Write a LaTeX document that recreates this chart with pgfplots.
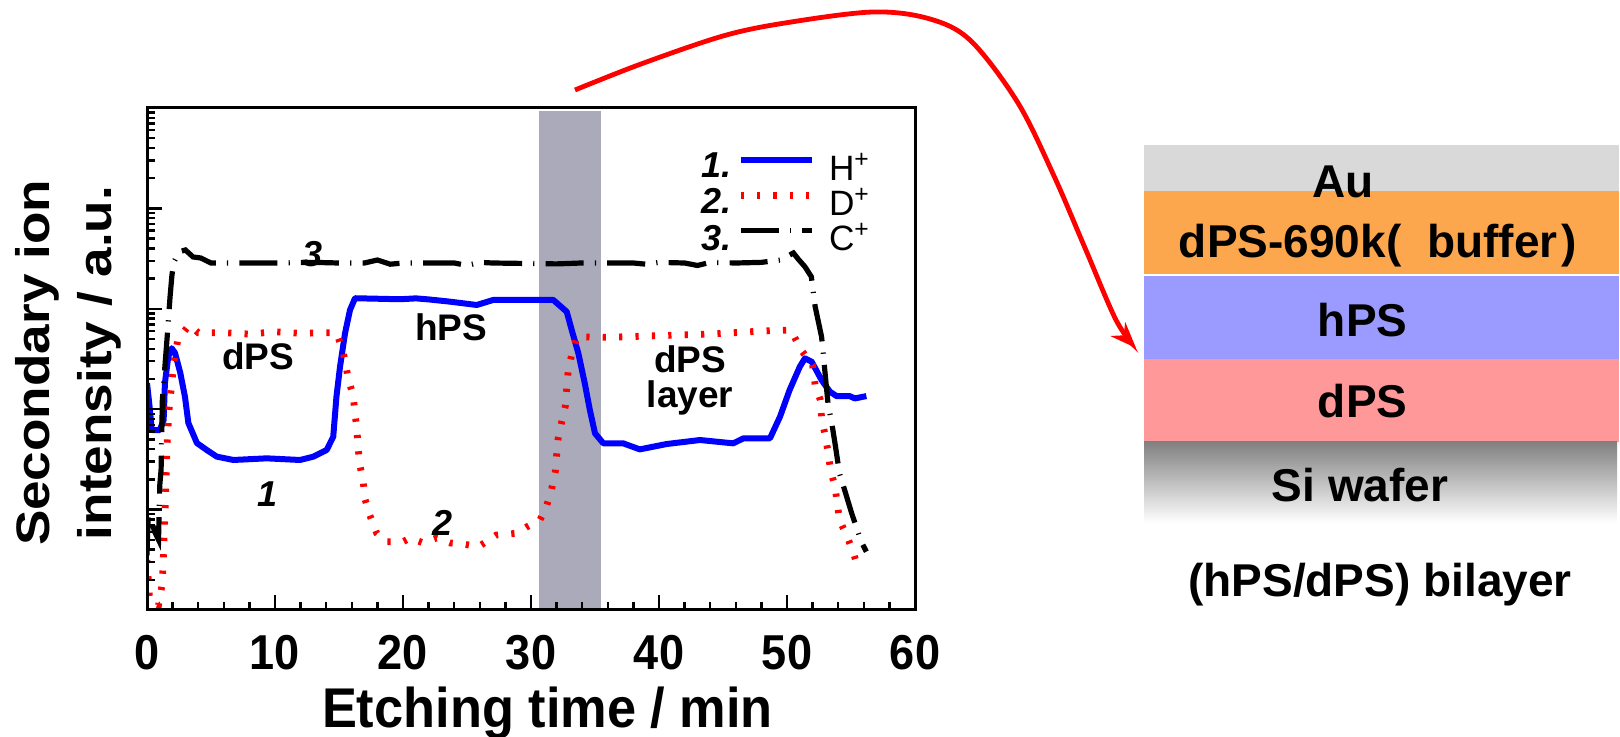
\documentclass[border=0pt]{standalone}
\usepackage{fontspec}
\setmainfont{Liberation Sans}
\newfontfamily\tickfont[FakeStretch=0.92]{Liberation Sans}
\newfontfamily\xlabfont[FakeStretch=0.935]{Liberation Sans}
\newfontfamily\ylabfont[FakeStretch=1.13]{Liberation Sans}
\usepackage{pgfplots}
\pgfplotsset{compat=1.18}
\usetikzlibrary{arrows.meta}

\definecolor{bandgray}{RGB}{170,170,186}
\definecolor{hblue}{RGB}{0,0,255}
\definecolor{dred}{RGB}{255,0,0}
\definecolor{augray}{RGB}{217,217,217}
\definecolor{bufferorange}{RGB}{252,166,78}
\definecolor{hpsblue}{RGB}{155,155,255}
\definecolor{dpspink}{RGB}{255,153,153}
\definecolor{sigray}{RGB}{128,128,128}

\begin{document}
\begin{tikzpicture}
\useasboundingbox (0,0) rectangle (810pt,368.5pt);
\begin{axis}[
  at={(73.5pt,63.5pt)}, anchor=south west,
  scale only axis, width=384pt, height=251pt,
  xmin=0, xmax=60, ymode=log, ymin=1, ymax=1e5,
  xtick={0,10,...,60}, minor x tick num=4,
  yticklabels={},
  xtick pos=left, ytick pos=left,
  tick align=inside,
  major tick length=7.5pt, minor tick length=4pt,
  every tick/.style={black, line width=1.2pt},
  axis line style={line width=1.5pt},
  axis on top,
  /pgf/number format/assume math mode=true,
  xticklabel style={font=\tickfont\bfseries\fontsize{24.5}{24.5}\selectfont, inner sep=0pt, yshift=-12.5pt},
  xlabel={Etching time / min},
  xlabel style={at={(axis description cs:0.5215,-0.234)}, anchor=base, inner sep=0pt,
    font=\xlabfont\bfseries\fontsize{28}{28}\selectfont},
  ylabel={Secondary ion\\intensity / a.u.},
  ylabel style={at={(axis description cs:-0.172,0.492)}, anchor=north, align=center, inner sep=0pt,
    font=\ylabfont\bfseries\fontsize{23.5}{31}\selectfont},
  legend cell align=left,
  legend image code/.code={%
    \path[draw=none, fill=none] (0pt,-7pt) (35.5pt,7pt);
    \draw[#1] (0pt,5pt) -- (35.5pt,5pt);},
  legend style={at={(0.768,0.9084)}, anchor=north west, draw=none, fill=none,
    inner sep=0pt, row sep=1.5pt, column sep=7pt,
    font=\fontsize{17.6}{17.6}\selectfont,
    nodes={inner sep=0pt, text height=13pt, text depth=3pt}},
]
% sputtered interface band
\addplot[fill=bandgray, draw=none, forget plot] coordinates {(30.6,1) (30.6,9.4e4) (35.5,9.4e4) (35.5,1)} -- cycle;

% 1. H+
\addplot[hblue, line width=3pt, line join=round] coordinates {
(0,182)(0.23,98)(0.37,62)(1.0,62)(1.3,78)(1.4,182)(1.66,333)(1.93,405)(2.19,363)(2.6,230)
(2.97,132)(3.23,73)(3.9,46)(4.66,39.3)(5.45,33.7)(6.75,31.2)(9.35,32.4)(11.95,31.2)(13.0,33.7)
(14.04,39.3)(14.55,53.2)(14.8,133)(15.08,265)(15.47,570)(15.86,973)(16.25,1274)(19.77,1245)
(21,1270)(22,1240)(23.67,1178)(25.76,1091)(27.05,1225)(31.74,1225)(32.79,935)(33.18,615)
(33.7,360)(34.2,181)(34.6,98)(35.0,57.5)(35.65,45.7)(37.2,45.7)(38.5,39.8)(40.6,45)(43.2,49.3)
(45.8,45.7)(46.6,51.3)(48.67,51.3)(49.45,84)(50.2,155)(51.0,265)(51.4,321)(51.93,297)(52.7,195)
(53.36,149)(53.88,135)(54.9,135)(55.3,128)(56.2,135)
};
\addlegendentry{H\textsuperscript{+}}

% 2. D+
\addplot[dred, line width=3.4pt, dash pattern=on 1.6pt off 6.6pt] coordinates {
(0,3.15)(0.2,1.26)(0.9,1.12)(1.2,1.86)(1.3,3.96)(1.4,8.84)(1.55,39.3)(1.7,91.8)(1.9,166)(2.1,295)
(2.4,489)(2.8,574)(3.3,690)(4,578)(6,578)(8,560)(10,590)(12,570)(14.3,578)(14.8,578)(15.2,419)
(15.5,297)(15.7,205)(16.1,138)(16.25,91.8)(16.4,62)(16.5,41.1)(16.6,29.1)(16.9,18.8)(17.0,13.1)
(17.4,8.84)(17.95,5.81)(18.7,4.79)(20.0,4.79)(20.55,5.21)(21.6,4.65)(22.6,5.21)(23.7,4.65)
(24.7,4.54)(25.9,4.27)(27.3,5.58)(28.9,5.81)(29.7,6.76)(30.7,7.88)(31.2,10.7)(31.6,15.7)
(31.9,23.9)(32.1,49.3)(32.4,75.1)(32.7,110)(32.8,168)(32.9,237)(33.2,361)(33.6,527)(36,520)
(40,540)(44,560)(48,600)(50.3,615)(51.1,389)(52.0,275)(52.2,174)(52.6,124)(52.7,81.7)(53.0,53.2)
(53.2,37.8)(53.4,24.8)(53.75,16.9)(54.1,7.88)(54.7,5.37)(55.2,3.67)(55.6,2.50)
};
\addlegendentry{D\textsuperscript{+}}

% 3. C+
\addplot[black, line width=2.6pt, dash pattern=on 19pt off 5.6pt on 0.6pt off 5.6pt] coordinates {
(0,3.5)(0.1,9.9)(0.6,6)(0.9,5)(1.0,17.6)(1.1,24.8)(1.15,52.8)(1.2,124)(1.3,182)(1.6,574)
(1.8,1312)(1.95,2173)(2.1,2926)(2.5,3681)(3.0,3852)(3.6,3282)(4.2,3207)(5,2858)(10,2858)
(13,2900)(15,2858)(17,2860)(18,3063)(19,2780)(20,2858)(24,2860)(25,2700)(26,2900)(27,2858)
(32,2800)(34,2860)(38,2858)(39,2780)(40,2900)(42,2858)(43,2700)(44,2900)(46,2858)(48,2900)
(49.5,3063)(50.5,3597)(50.9,3100)(51.4,2625)(51.9,2088)(52.2,1050)(52.7,527)(53.0,211)
(53.2,115)(53.5,72.4)(53.75,45.7)(54.1,23)(54.5,15.7)(55.05,9.2)(55.8,4.79)(56.2,3.81)
};
\addlegendentry{C\textsuperscript{+}}

% legend numbers and curve labels
\begin{scope}[every node/.style={font=\bfseries\itshape\fontsize{18}{18}\selectfont, inner sep=0pt}]
\node[anchor=base east] at (axis description cs:0.7617,0.8606) {1.};
\node[anchor=base east] at (axis description cs:0.7617,0.7908) {2.};
\node[anchor=base east] at (axis description cs:0.7617,0.7171) {3.};
\node at (axis description cs:0.1563,0.2311) {1};
\node at (axis description cs:0.3854,0.1733) {2};
\node at (axis description cs:0.2161,0.709) {3};
\end{scope}
\begin{scope}[every node/.style={font=\bfseries\fontsize{18.5}{17.5}\selectfont, inner sep=0pt}]
\node at (axis description cs:0.1445,0.506) {dPS};
\node at (axis description cs:0.3959,0.564) {hPS};
\node[anchor=north, align=center] at (axis description cs:0.707,0.528) {dPS\\layer};
\end{scope}
\end{axis}

% layer stack
\begin{scope}[x=0.5pt, y=-0.5pt, yshift=368.5pt]
\fill[augray] (1144,145) rectangle (1619,191);
\fill[bufferorange] (1144,191) rectangle (1619,274);
\fill[hpsblue] (1144,275.7) rectangle (1619,359);
\fill[dpspink] (1144,359) rectangle (1619,441.7);
\shade[top color=sigray, bottom color=white] (1144,441.7) rectangle (1617,523);
\begin{scope}[every node/.style={font=\bfseries\fontsize{23}{23}\selectfont, inner sep=0pt, anchor=base}]
\node at (1342.7,198) {Au};
\node at (1378,258) {dPS-690k(\hspace{13pt}buffer\hspace{2pt})};
\node at (1362.7,336.7) {hPS};
\node at (1362.7,418) {dPS};
\node at (1360,502) {Si wafer};
\node at (1380,597) {(hPS/dPS) bilayer};
\end{scope}
\draw[dred, line width=2.4pt, -{Stealth[length=13pt, width=10pt]}]
  plot[smooth, tension=0.55] coordinates {(575,90) (641,64) (723,36) (785,23) (873,12) (930,19)
  (971,41) (1018,103) (1054,176) (1085,248) (1116,320) (1136,348)};
\end{scope}
\end{tikzpicture}
\end{document}
